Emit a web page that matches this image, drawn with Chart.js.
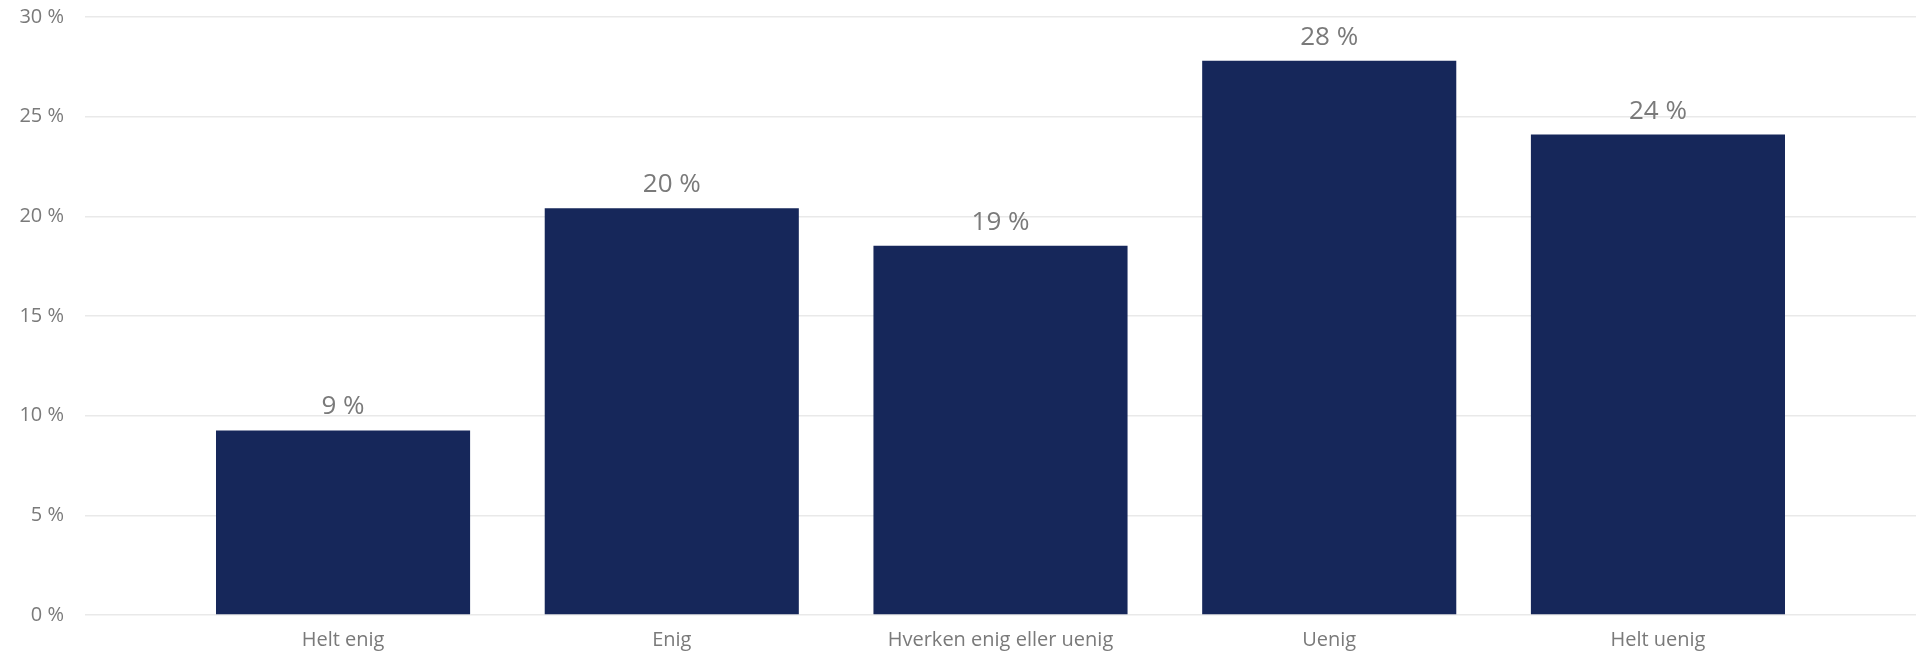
<!DOCTYPE html>
<html>
<head>
<meta charset="utf-8">
<script src="https://cdn.jsdelivr.net/npm/chart.js@4/dist/chart.umd.min.js"></script>
<style>
    html, body { margin: 0; padding: 0; background: #ffffff; }
    #wrap { width: 1918px; height: 652px; position: relative; }
</style>
</head>
<body>
<div id="wrap"><canvas id="chart"></canvas></div>
<script>
const categories = ["Helt enig", "Enig", "Hverken enig eller uenig", "Uenig", "Helt uenig"];
const shares = [9.26, 20.4, 18.53, 27.8, 24.1];
const yTicks = [0, 5, 10, 15, 20, 25, 30];

const barColor = "#16275a";
const textColor = "#7a7a7a";
const gridColor = "#e9e9e9";
const fontFamily = "'Open Sans', 'Noto Sans', sans-serif";

// draws "20 %" style labels above each bar
const valueLabels = {
    id: "valueLabels",
    afterDatasetsDraw(chart) {
        const ctx = chart.ctx;
        const meta = chart.getDatasetMeta(0);
        ctx.save();
        ctx.font = `26px ${fontFamily}`;
        ctx.fillStyle = textColor;
        ctx.textAlign = "center";
        ctx.textBaseline = "alphabetic";
        meta.data.forEach((bar, i) => {
            ctx.fillText(`${Math.round(shares[i])} %`, bar.x, bar.y - 16);
        });
        ctx.restore();
    },
};

new Chart(document.getElementById("chart"), {
    type: "bar",
    data: {
        datasets: [{
            data: shares.map((value, i) => ({ x: i, y: value })),
            backgroundColor: barColor,
            borderWidth: 0,
            categoryPercentage: 1,
            barPercentage: 0.773,
        }],
    },
    options: {
        responsive: true,
        maintainAspectRatio: false,
        animation: false,
        events: [],
        layout: { padding: { top: 17, right: 2, left: 0, bottom: 0 } },
        plugins: { legend: { display: false }, tooltip: { enabled: false } },
        scales: {
            x: {
                type: "linear",
                offset: false,
                min: -0.785,
                max: 4.785,
                grid: { display: false },
                border: { display: false },
                afterBuildTicks: (axis) => {
                    axis.ticks = categories.map((_, i) => ({ value: i }));
                },
                afterFit: (axis) => { axis.height = 37; },
                ticks: {
                    autoSkip: false,
                    maxRotation: 0,
                    padding: 5,
                    color: textColor,
                    font: { family: fontFamily, size: 20 },
                    callback: (value) => categories[value] ?? "",
                },
            },
            y: {
                min: 0,
                max: 30,
                afterBuildTicks: (axis) => {
                    axis.ticks = yTicks.map((value) => ({ value }));
                },
                afterFit: (axis) => { axis.width = 85; },
                grid: {
                    color: gridColor,
                    lineWidth: 1.5,
                    drawTicks: true,
                    tickLength: 21,
                    tickColor: "rgba(0,0,0,0)",
                },
                border: { display: false },
                ticks: {
                    padding: 0,
                    color: textColor,
                    font: { family: fontFamily, size: 20 },
                    callback: (value) => `${value} %`,
                },
            },
        },
    },
    plugins: [valueLabels],
});
</script>
</body>
</html>
